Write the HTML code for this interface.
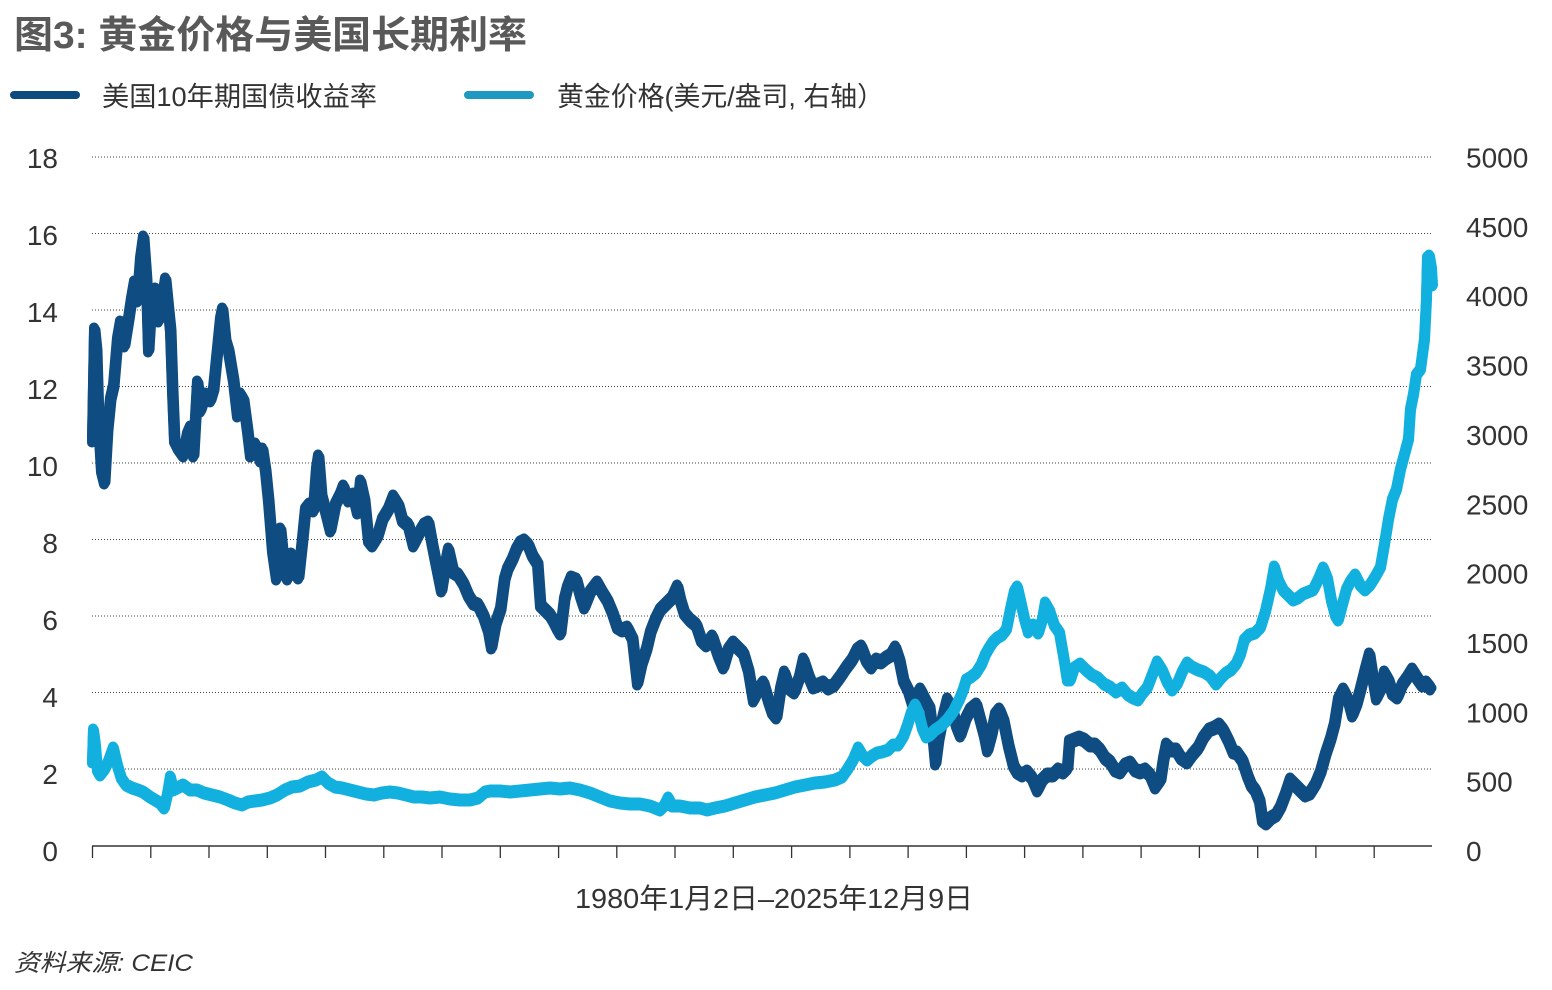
<!DOCTYPE html>
<html>
<head>
<meta charset="utf-8">
<style>
html,body{margin:0;padding:0;background:#fff;}
svg{display:block;}
text{font-family:"Liberation Sans","Noto Sans CJK SC",sans-serif;}
</style>
</head>
<body>
<svg width="1552" height="990" viewBox="0 0 1552 990" xmlns="http://www.w3.org/2000/svg" xmlns:xlink="http://www.w3.org/1999/xlink">
<rect x="0" y="0" width="1552" height="990" fill="#ffffff"/>

<!-- Title -->
<text x="14" y="48" font-size="38" font-weight="bold" fill="#595959" textLength="513" lengthAdjust="spacingAndGlyphs">图3: 黄金价格与美国长期利率</text>

<!-- Legend -->
<line x1="14" y1="95" x2="76" y2="95" stroke="#0d4a7e" stroke-width="8" stroke-linecap="round"/>
<text x="102" y="106" font-size="27" fill="#333" textLength="275" lengthAdjust="spacingAndGlyphs">美国10年期国债收益率</text>
<line x1="468" y1="95" x2="530" y2="95" stroke="#1d99c2" stroke-width="8" stroke-linecap="round"/>
<text x="557" y="106" font-size="27" fill="#333" textLength="327" lengthAdjust="spacingAndGlyphs">黄金价格(美元/盎司, 右轴）</text>

<!-- Grid lines -->
<g stroke="#444" stroke-width="1" stroke-dasharray="1 2">
<line x1="92" y1="157" x2="1432" y2="157"/>
<line x1="92" y1="233.5" x2="1432" y2="233.5"/>
<line x1="92" y1="310" x2="1432" y2="310"/>
<line x1="92" y1="386.5" x2="1432" y2="386.5"/>
<line x1="92" y1="463" x2="1432" y2="463"/>
<line x1="92" y1="539.5" x2="1432" y2="539.5"/>
<line x1="92" y1="616" x2="1432" y2="616"/>
<line x1="92" y1="692.5" x2="1432" y2="692.5"/>
<line x1="92" y1="769" x2="1432" y2="769"/>
</g>

<!-- Left axis labels -->
<g font-size="28" fill="#333" text-anchor="end">
<text x="58" y="168">18</text>
<text x="58" y="245">16</text>
<text x="58" y="322">14</text>
<text x="58" y="399">12</text>
<text x="58" y="476">10</text>
<text x="58" y="553">8</text>
<text x="58" y="630">6</text>
<text x="58" y="707">4</text>
<text x="58" y="784">2</text>
<text x="58" y="861">0</text>
</g>

<!-- Right axis labels -->
<g font-size="28" fill="#333">
<text x="1466" y="167.5">5000</text>
<text x="1466" y="236.9">4500</text>
<text x="1466" y="306.2">4000</text>
<text x="1466" y="375.6">3500</text>
<text x="1466" y="444.9">3000</text>
<text x="1466" y="514.3">2500</text>
<text x="1466" y="583.6">2000</text>
<text x="1466" y="653">1500</text>
<text x="1466" y="722.3">1000</text>
<text x="1466" y="791.7">500</text>
<text x="1466" y="861">0</text>
</g>

<defs>
<polyline id="yld" fill="none" stroke="#0e4c82" stroke-width="10" stroke-linejoin="round" stroke-linecap="round" points="
92,440 94,330 96,350 98,420 101,470 104,482 107,430 110,400 113,387 117,340 120,323 124,345 128,320 131,300 134,283 137,300 140,260 143,238 146,280 148,350 151,300 155,290 158,320 162,300 165,280 168,310 170,330 172,390 174,440 178,448 183,455 187,435 190,428 193,455 197,383 200,410 205,395 210,400 213,390 217,350 220,320 222,310 225,340 228,350 233,380 237,415 240,395 243,400 247,430 250,455 255,445 260,460 262,450 265,470 268,500 272,550 276,578 280,530 284,570 287,578 291,555 295,572 298,577 302,540 305,510 309,505 313,510 316,470 318,457 321,495 325,510 330,530 335,505 340,495 343,487 348,500 353,495 357,512 360,482 364,500 368,540 372,545 377,537 382,520 388,510 393,497 398,505 402,520 408,525 413,545 418,535 424,525 428,523 432,545 437,570 441,590 445,565 448,550 453,572 458,575 463,583 468,595 473,603 478,605 483,615 488,630 491,647 495,625 500,610 504,580 507,570 512,560 516,550 520,543 524,541 528,545 532,555 537,563 540,605 545,610 550,615 553,620 557,628 560,633 564,600 567,588 571,578 576,580 580,595 584,607 590,592 597,583 602,592 607,600 612,612 617,627 622,630 627,628 632,638 637,683 641,665 646,650 650,633 655,620 660,610 667,603 672,598 677,587 680,600 684,613 690,620 696,625 701,640 706,645 712,637 718,655 723,667 728,650 733,643 738,648 743,653 748,670 753,700 758,690 763,683 768,700 772,712 776,717 780,690 784,673 789,688 794,692 799,678 803,660 808,675 813,687 818,685 823,683 828,688 834,685 840,677 846,668 852,660 857,650 861,647 866,660 871,667 876,660 881,662 886,658 891,655 895,648 899,660 903,680 908,690 912,703 916,697 920,690 925,700 929,707 932,730 935,763 938,740 942,720 947,700 952,710 956,725 960,735 965,720 970,710 976,705 980,720 984,735 987,750 991,735 995,715 999,710 1003,720 1008,745 1013,765 1017,772 1022,775 1027,772 1032,778 1037,790 1042,780 1047,775 1053,775 1058,770 1063,772 1067,768 1069,742 1074,740 1079,738 1084,740 1090,745 1095,745 1100,750 1105,758 1110,762 1115,770 1120,772 1125,765 1130,763 1135,770 1140,772 1145,770 1150,775 1155,787 1160,780 1163,760 1166,745 1171,750 1176,750 1181,758 1187,762 1192,755 1198,748 1203,738 1209,730 1214,728 1219,725 1223,730 1228,740 1233,752 1237,753 1242,760 1247,775 1251,785 1255,790 1259,800 1262,820 1266,823 1271,818 1276,815 1280,808 1285,795 1290,780 1295,785 1300,790 1305,795 1310,793 1315,785 1320,773 1325,755 1330,740 1334,725 1338,700 1343,690 1348,700 1352,715 1356,705 1360,690 1365,670 1369,655 1372,675 1376,698 1380,690 1384,673 1388,680 1392,693 1397,697 1402,685 1407,678 1412,670 1417,678 1422,685 1426,683 1430,688"/>
<polyline id="gld" fill="none" stroke="#12b0de" stroke-width="10" stroke-linejoin="round" stroke-linecap="round" points="
92,762 93,730 95,745 97,770 100,775 104,770 108,762 113,748 117,765 121,778 126,785 132,788 138,790 143,792 150,797 155,800 160,803 164,808 167,795 170,777 173,790 177,788 183,785 190,790 197,790 204,793 212,795 220,797 228,800 235,803 242,805 248,802 255,801 262,800 270,798 277,795 285,790 292,787 300,786 308,782 316,780 322,777 328,783 335,787 342,788 350,790 358,792 366,794 374,795 382,793 390,792 398,793 406,795 414,797 422,797 430,798 440,797 450,799 460,800 470,800 478,798 485,792 490,791 500,791 510,792 520,791 530,790 540,789 550,788 560,789 570,788 580,790 590,793 600,797 610,801 620,803 630,804 640,804 650,806 660,810 664,806 668,798 672,806 680,806 690,808 700,808 707,810 715,808 725,806 735,803 745,800 755,797 765,795 775,793 785,790 795,787 805,785 815,783 825,782 835,780 842,777 847,770 853,760 858,748 862,755 867,760 872,756 877,753 882,752 888,750 893,745 898,745 903,737 907,726 911,713 915,705 918,712 922,728 926,737 930,735 935,730 941,726 947,720 953,712 959,700 963,690 966,680 971,677 976,673 981,665 985,655 989,648 993,642 997,638 1002,635 1006,630 1010,610 1014,592 1017,587 1020,600 1024,618 1028,632 1033,625 1038,633 1042,620 1045,603 1049,610 1054,625 1059,632 1063,655 1067,680 1070,680 1074,668 1080,664 1086,670 1092,675 1098,678 1104,684 1110,687 1116,692 1122,688 1128,695 1133,698 1138,700 1142,694 1147,688 1152,675 1157,662 1162,670 1167,682 1172,690 1177,684 1182,672 1187,663 1192,667 1198,670 1204,672 1210,676 1216,684 1221,678 1226,673 1231,670 1236,664 1240,655 1244,640 1249,635 1255,633 1260,628 1265,612 1270,590 1274,567 1278,580 1283,590 1288,595 1293,600 1298,598 1303,594 1308,592 1313,590 1318,580 1323,568 1327,578 1331,600 1335,615 1338,620 1342,605 1346,590 1350,582 1355,575 1360,585 1365,590 1370,585 1375,577 1380,568 1384,545 1388,520 1392,500 1396,490 1400,470 1404,455 1408,440 1410,410 1413,395 1416,375 1420,370 1424,340 1426,300 1427,258 1429,256 1431,268 1432,285 1430,280"/>
</defs>

<!-- Series: 10Y yield (thickened band) -->
<use xlink:href="#yld" href="#yld" transform="translate(0,-2.5)"/>
<use xlink:href="#yld" href="#yld" transform="translate(0,2.5)"/>
<use xlink:href="#yld" href="#yld" transform="translate(1.5,0)"/>

<!-- Series: Gold (thickened band) -->
<use xlink:href="#gld" href="#gld" transform="translate(0,-1.5)"/>
<use xlink:href="#gld" href="#gld" transform="translate(0,1.5)"/>
<use xlink:href="#gld" href="#gld" transform="translate(1,0)"/>

<!-- X axis -->
<line x1="92" y1="846" x2="1432" y2="846" stroke="#333" stroke-width="1.5"/>
<g stroke="#333" stroke-width="1.3">
<line x1="92.5" y1="846" x2="92.5" y2="858"/>
<line x1="150.8" y1="846" x2="150.8" y2="858"/>
<line x1="209" y1="846" x2="209" y2="858"/>
<line x1="267.3" y1="846" x2="267.3" y2="858"/>
<line x1="325.5" y1="846" x2="325.5" y2="858"/>
<line x1="383.8" y1="846" x2="383.8" y2="858"/>
<line x1="442" y1="846" x2="442" y2="858"/>
<line x1="500.3" y1="846" x2="500.3" y2="858"/>
<line x1="558.6" y1="846" x2="558.6" y2="858"/>
<line x1="616.8" y1="846" x2="616.8" y2="858"/>
<line x1="675" y1="846" x2="675" y2="858"/>
<line x1="733.3" y1="846" x2="733.3" y2="858"/>
<line x1="791.6" y1="846" x2="791.6" y2="858"/>
<line x1="849.9" y1="846" x2="849.9" y2="858"/>
<line x1="908.1" y1="846" x2="908.1" y2="858"/>
<line x1="966.4" y1="846" x2="966.4" y2="858"/>
<line x1="1024.6" y1="846" x2="1024.6" y2="858"/>
<line x1="1082.9" y1="846" x2="1082.9" y2="858"/>
<line x1="1141.1" y1="846" x2="1141.1" y2="858"/>
<line x1="1199.4" y1="846" x2="1199.4" y2="858"/>
<line x1="1257.7" y1="846" x2="1257.7" y2="858"/>
<line x1="1315.9" y1="846" x2="1315.9" y2="858"/>
<line x1="1374.2" y1="846" x2="1374.2" y2="858"/>
</g>

<!-- X label -->
<text x="575" y="908" font-size="28" fill="#333" textLength="398" lengthAdjust="spacingAndGlyphs">1980年1月2日–2025年12月9日</text>

<!-- Source -->
<text x="14" y="971" font-size="24" font-style="italic" fill="#333" textLength="179" lengthAdjust="spacingAndGlyphs">资料来源: CEIC</text>
</svg>
</body>
</html>
